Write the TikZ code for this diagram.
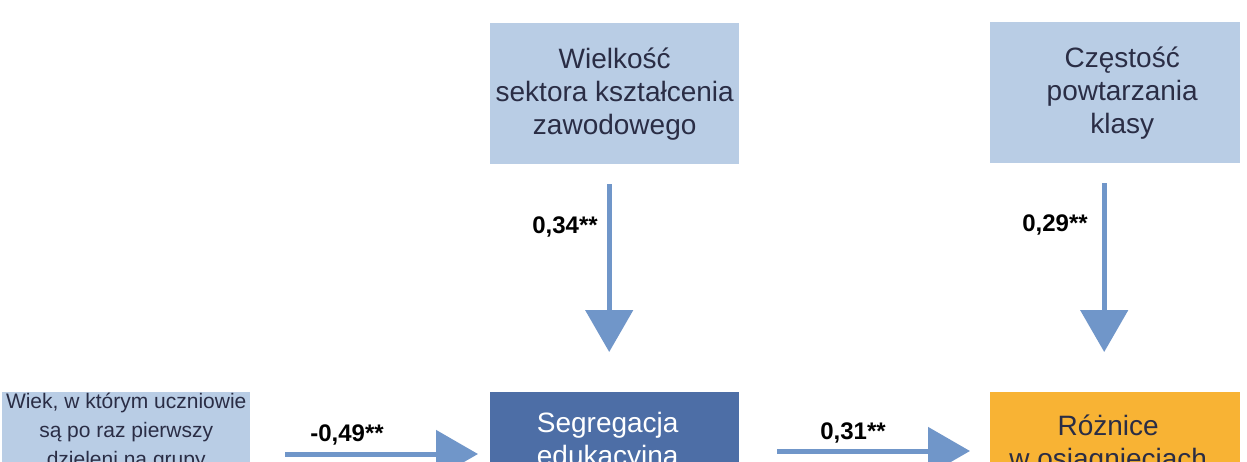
\documentclass[tikz,border=0pt]{standalone}
\usepackage{fontspec}
\setmainfont{Liberation Sans}
\usetikzlibrary{arrows.meta,calc}
\definecolor{lightbox}{HTML}{B9CDE5}
\definecolor{darkbox}{HTML}{4D6EA6}
\definecolor{orangebox}{HTML}{F8B334}
\definecolor{arrowblue}{HTML}{7096C9}
\definecolor{boxtext}{HTML}{2A2D45}
\begin{document}
\begin{tikzpicture}[x=1pt,y=-1pt,
  box/.style={draw=none,anchor=north west,inner sep=0pt,align=center,
    text=boxtext,font=\fontsize{28}{33}\selectfont},
  lbox/.style={box,fill=lightbox},
  arr/.style={draw=arrowblue,line width=5pt,
    -{Triangle[length=42pt,width=47pt]}},
  coef/.style={font=\fontsize{24}{28}\selectfont\bfseries,text=black,inner sep=0pt}]
\useasboundingbox (0,0) rectangle (1247,461);
\fill[white] (0,0) rectangle (1247,461);
\clip (0,0) rectangle (1247,461);

\node[lbox,minimum width=249pt,minimum height=141pt] (top1) at (490,23)
  {Wielkość\\sektora kształcenia\\zawodowego};
\node[lbox,minimum width=250pt,minimum height=141pt] (top2) at (990,22)
  {\hspace*{14pt}Częstość\\\hspace*{14pt}powtarzania\\\hspace*{14pt}klasy};
\node[lbox,minimum width=248pt,minimum height=80pt,
  font=\fontsize{21}{29}\selectfont] (left) at (2,392)
  {Wiek, w którym uczniowie\\są po raz pierwszy\\dzieleni na grupy};
\node[box,fill=darkbox,text=white,minimum width=249pt,minimum height=99pt] (mid) at (490,392)
  {Segregacja\hspace*{14pt}\\edukacyjna\hspace*{14pt}};
\node[box,fill=orangebox,minimum width=250pt,minimum height=104pt] (right) at (990,392)
  {Różnice\hspace*{14pt}\\w osiągnięciach\hspace*{14pt}};

\draw[arr,shorten <=20pt,shorten >=40pt] ([xshift=-5.5pt]top1.south) -- ([xshift=-5.5pt]mid.north);
\draw[arr,shorten <=20pt,shorten >=40pt] ([xshift=-11pt]top2.south) -- ([xshift=-11pt]right.north);
\draw[arr,shorten <=35pt,shorten >=12pt] (left.east |- 0,454) -- (mid.west |- 0,454);
\draw[arr,shorten <=38pt,shorten >=20pt] (mid.east |- 0,451) -- (right.west |- 0,451);

\node[coef] (c1) at (565,227) {0,34**};
\node[coef] (c2) at (1055,225) {0,29**};
\node[coef] (c3) at (347,435) {-0,49**};
\node[coef] (c4) at (853,433) {0,31**};
\end{tikzpicture}
\end{document}
